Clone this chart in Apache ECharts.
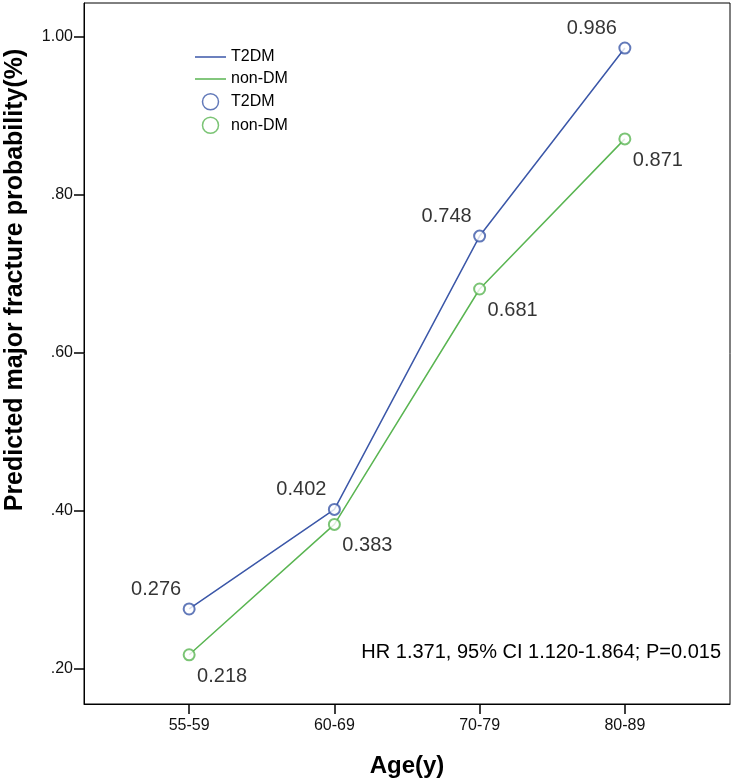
<!DOCTYPE html>
<html>
<head>
<meta charset="utf-8">
<script src="https://cdn.jsdelivr.net/npm/echarts@6/dist/echarts.min.js"></script>
<style>html,body{margin:0;padding:0;background:#fff;}#c{width:733px;height:780px;}</style>
</head>
<body>
<div id="c"></div>
<script>
var categories = ['55-59', '60-69', '70-79', '80-89'];
var t2dmValues = [0.276, 0.402, 0.748, 0.986];
var nonDmValues = [0.218, 0.383, 0.681, 0.871];
var yTickValues = [0.2, 0.4, 0.6, 0.8, 1.0];
var seriesNames = ['T2DM', 'non-DM'];
var noteText = 'HR 1.371, 95% CI 1.120-1.864; P=0.015';
var yTitle = 'Predicted major fracture probability(%)';
var xTitle = 'Age(y)';

var BLUE = '#3b57a8';
var GREEN = '#5ab552';
var FONT = 'Liberation Sans, Arial, sans-serif';

function pairs(vals) { return vals.map(function (v, i) { return [i, v]; }); }
var catIdx = categories.map(function (c, i) { return i; });

var chart = echarts.init(document.getElementById('c'));
chart.setOption({
  animation: false,
  backgroundColor: '#fff',
  textStyle: { fontFamily: FONT },
  grid: { left: 84, right: 3, top: 3, bottom: 76, show: true, borderColor: '#000', borderWidth: 1,
    containLabel: false, outerBoundsMode: 'none' },
  xAxis: {
    type: 'value', min: -0.724, max: 3.724,
    name: xTitle, nameLocation: 'middle', nameGap: 50,
    nameTextStyle: { fontSize: 24, fontWeight: 'bold', color: '#000', fontFamily: FONT },
    axisLine: { show: true, onZero: false, lineStyle: { color: '#000', width: 1 } },
    axisTick: { show: true, inside: false, length: 10, customValues: catIdx, lineStyle: { color: '#000', width: 1.5 } },
    axisLabel: { show: true, customValues: catIdx, margin: 14, fontSize: 16, color: '#111', fontFamily: FONT,
      formatter: function (v) { return categories[Math.round(v)]; } },
    splitLine: { show: false }
  },
  yAxis: {
    type: 'value', min: 0.1557, max: 1.043,
    axisLine: { show: true, onZero: false, lineStyle: { color: '#000', width: 1 } },
    axisTick: { show: true, inside: false, length: 10, customValues: yTickValues, lineStyle: { color: '#000', width: 1.5 } },
    axisLabel: { show: true, customValues: yTickValues, margin: 11, fontSize: 16, color: '#111', fontFamily: FONT,
      formatter: function (v) { return v.toFixed(2).replace(/^0/, ''); } },
    splitLine: { show: false }
  },
  legend: {
    orient: 'vertical', left: 195, top: 49, padding: 0, itemWidth: 31, itemHeight: 16, itemGap: 6,
    selectedMode: false,
    textStyle: { fontSize: 16, lineHeight: 16, color: '#000', fontFamily: FONT },
    formatter: function (n) { return n.trim(); },
    data: [
      { name: seriesNames[0], icon: 'path://M0,0H31V1.5H0Z', itemStyle: { color: BLUE } },
      { name: seriesNames[1], icon: 'path://M0,0H31V1.5H0Z', itemStyle: { color: GREEN } },
      { name: seriesNames[0] + ' ', icon: 'circle', itemStyle: { color: '#fff', borderColor: BLUE, borderWidth: 1.5 } },
      { name: seriesNames[1] + ' ', icon: 'circle', itemStyle: { color: '#fff', borderColor: GREEN, borderWidth: 1.5 } }
    ]
  },
  graphic: [
    { type: 'text', x: 721, y: 652, style: { text: noteText, fontSize: 20, fill: '#000', fontFamily: FONT, align: 'right', verticalAlign: 'middle' } },
    { type: 'text', x: 15, y: 280, rotation: Math.PI / 2, style: { text: yTitle, fontSize: 25, fontWeight: 'bold', fill: '#000', fontFamily: FONT, align: 'center', verticalAlign: 'middle' } }
  ],
  series: [
    { name: seriesNames[0], type: 'line', data: pairs(t2dmValues), showSymbol: false, silent: true,
      lineStyle: { color: BLUE, width: 1.5 }, itemStyle: { color: BLUE }, z: 2 },
    { name: seriesNames[1], type: 'line', data: pairs(nonDmValues), showSymbol: false, silent: true,
      lineStyle: { color: GREEN, width: 1.5 }, itemStyle: { color: GREEN }, z: 2 },
    { name: seriesNames[0] + ' ', type: 'scatter', data: pairs(t2dmValues), symbol: 'emptyCircle', symbolSize: 11, z: 3,
      itemStyle: { color: BLUE, borderWidth: 1.5 },
      label: { show: true, position: 'top', offset: [-33, 2], fontSize: 20, color: '#000', fontFamily: FONT,
        formatter: function (p) { return p.value[1].toFixed(3); } } },
    { name: seriesNames[1] + ' ', type: 'scatter', data: pairs(nonDmValues), symbol: 'emptyCircle', symbolSize: 11, z: 3,
      itemStyle: { color: GREEN, borderWidth: 1.5 },
      label: { show: true, position: 'bottom', offset: [33, 0], fontSize: 20, color: '#000', fontFamily: FONT,
        formatter: function (p) { return p.value[1].toFixed(3); } } }
  ]
});
</script>
</body>
</html>
